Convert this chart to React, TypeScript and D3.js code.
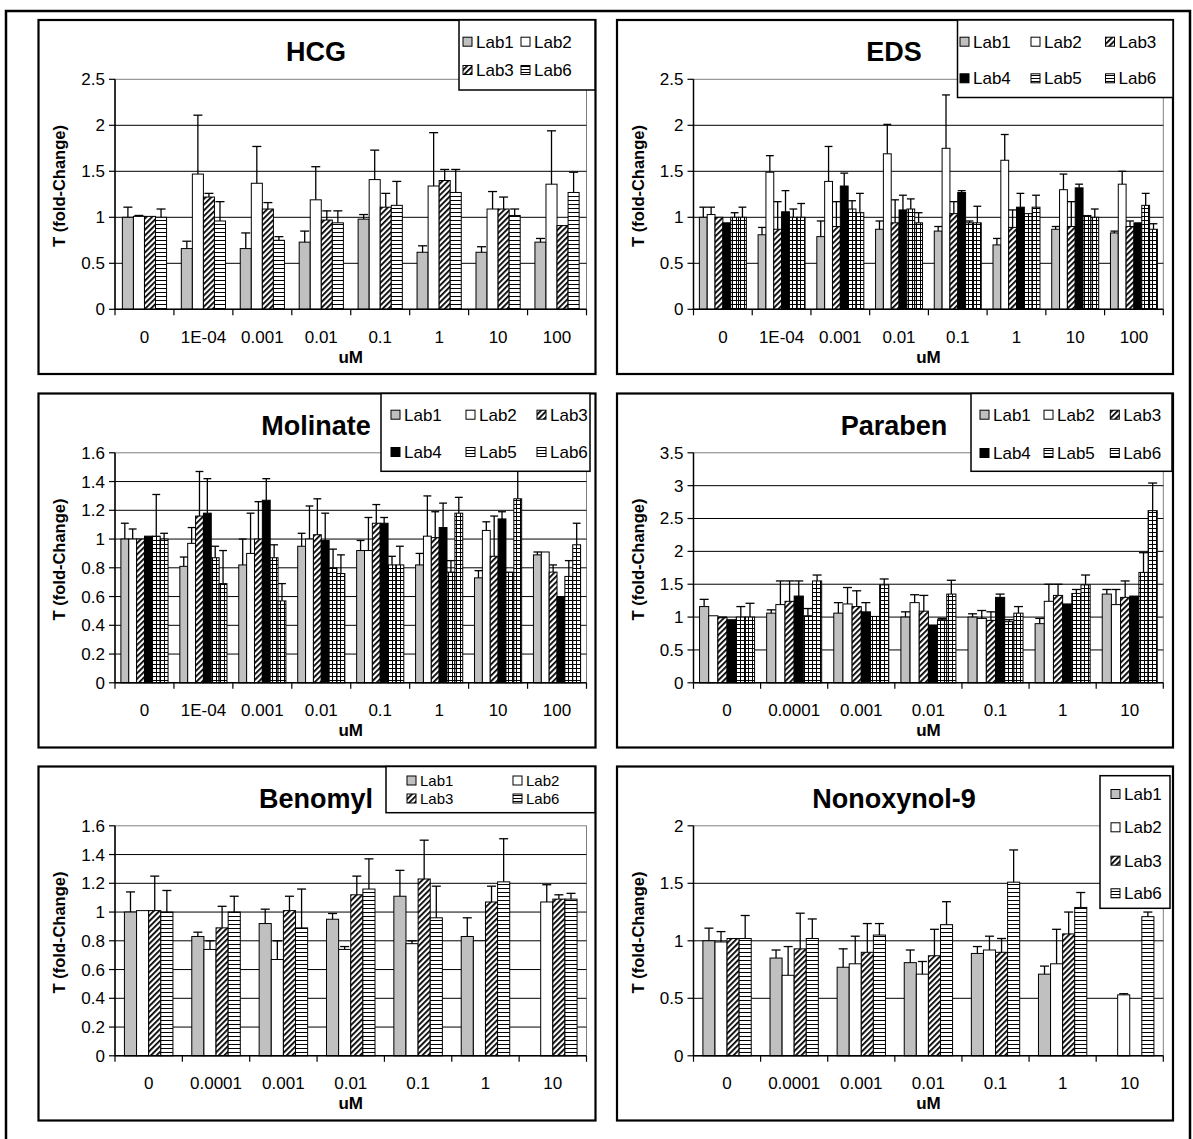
import React from "react";
import * as d3 from "d3";

// ---------- categories / labels ----------
const CONC_8 = ["0", "1E-04", "0.001", "0.01", "0.1", "1", "10", "100"];
const CONC_7 = ["0", "0.0001", "0.001", "0.01", "0.1", "1", "10"];
const LABS_4 = ["Lab1", "Lab2", "Lab3", "Lab6"];
const LABS_6 = ["Lab1", "Lab2", "Lab3", "Lab4", "Lab5", "Lab6"];

const TICKS_25 = [0, 0.5, 1, 1.5, 2, 2.5];
const TICKS_16 = [0, 0.2, 0.4, 0.6, 0.8, 1, 1.2, 1.4, 1.6];
const TICKS_35 = [0, 0.5, 1, 1.5, 2, 2.5, 3, 3.5];
const TICKS_20 = [0, 0.5, 1, 1.5, 2];

// ---------- HCG ----------
const hcgLab1 = [1.0, 0.66, 0.66, 0.73, 0.98, 0.62, 0.62, 0.73];
const hcgLab1Err = [0.11, 0.08, 0.17, 0.12, 0.05, 0.07, 0.06, 0.04];
const hcgLab2 = [1.01, 1.47, 1.37, 1.19, 1.41, 1.34, 1.09, 1.36];
const hcgLab2Err = [0.01, 0.64, 0.4, 0.36, 0.32, 0.58, 0.19, 0.58];
const hcgLab3 = [1.01, 1.22, 1.09, 0.97, 1.11, 1.4, 1.09, 0.91];
const hcgLab3Err = [0, 0.04, 0.07, 0.1, 0.15, 0.12, 0.13, 0];
const hcgLab6 = [1.0, 0.96, 0.75, 0.94, 1.13, 1.27, 1.02, 1.27];
const hcgLab6Err = [0.09, 0.21, 0.04, 0.13, 0.26, 0.25, 0.07, 0.22];

// ---------- EDS ----------
const edsLab1 = [1.0, 0.81, 0.79, 0.87, 0.85, 0.7, 0.87, 0.83];
const edsLab1Err = [0.11, 0.08, 0.17, 0.09, 0.05, 0.07, 0.03, 0.02];
const edsLab2 = [1.03, 1.49, 1.39, 1.69, 1.75, 1.62, 1.3, 1.36];
const edsLab2Err = [0.08, 0.18, 0.38, 0.32, 0.58, 0.28, 0.17, 0.14];
const edsLab3 = [1.0, 0.87, 0.9, 0.94, 1.04, 0.89, 0.9, 0.9];
const edsLab3Err = [0, 0.3, 0.27, 0.25, 0.13, 0.19, 0.27, 0.06];
const edsLab4 = [0.94, 1.06, 1.34, 1.08, 1.27, 1.11, 1.32, 0.94];
const edsLab4Err = [0, 0.23, 0.14, 0.16, 0.02, 0.15, 0.04, 0];
const edsLab5 = [1.0, 1.0, 1.09, 1.09, 0.94, 1.04, 1.02, 1.13];
const edsLab5Err = [0.05, 0.09, 0.09, 0.11, 0.02, 0, 0, 0.13];
const edsLab6 = [1.0, 1.0, 1.05, 0.94, 0.94, 1.11, 1.0, 0.87];
const edsLab6Err = [0.11, 0.15, 0.21, 0.11, 0.18, 0.13, 0.09, 0.06];

// ---------- Molinate ----------
const molLab1 = [1.0, 0.81, 0.82, 0.95, 0.92, 0.82, 0.73, 0.89];
const molLab1Err = [0.11, 0.065, 0.18, 0.09, 0.07, 0.08, 0.05, 0.02];
const molLab2 = [1.0, 0.97, 0.9, 1.0, 0.92, 1.02, 1.06, 0.91];
const molLab2Err = [0.07, 0.11, 0.28, 0.23, 0.23, 0.28, 0.06, 0];
const molLab3 = [1.0, 1.16, 1.0, 1.03, 1.11, 1.01, 0.88, 0.77];
const molLab3Err = [0, 0.31, 0.26, 0.25, 0.13, 0.18, 0.28, 0.05];
const molLab4 = [1.02, 1.18, 1.27, 0.99, 1.11, 1.08, 1.14, 0.6];
const molLab4Err = [0, 0.24, 0.15, 0.19, 0.04, 0.17, 0.05, 0];
const molLab5 = [1.02, 0.87, 0.87, 0.8, 0.82, 0.77, 0.77, 0.74];
const molLab5Err = [0.29, 0.08, 0.09, 0.13, 0.06, 0.08, 0, 0.11];
const molLab6 = [1.0, 0.69, 0.57, 0.76, 0.82, 1.18, 1.28, 0.96];
const molLab6Err = [0.04, 0.23, 0.12, 0.13, 0.13, 0.11, 0.25, 0.15];

// ---------- Paraben ----------
const parLab1 = [1.16, 1.06, 1.06, 1.0, 1.0, 0.9, 1.35];
const parLab1Err = [0.11, 0.05, 0.16, 0.08, 0.05, 0.08, 0.07];
const parLab2 = [1.02, 1.19, 1.2, 1.22, 0.98, 1.24, 1.19];
const parLab2Err = [0, 0.36, 0.25, 0.12, 0.12, 0.26, 0.23];
const parLab3 = [0.99, 1.24, 1.16, 1.09, 0.95, 1.33, 1.3];
const parLab3Err = [0.01, 0.31, 0.24, 0.24, 0.13, 0.17, 0.25];
const parLab4 = [0.96, 1.32, 1.08, 0.88, 1.3, 1.2, 1.32];
const parLab4Err = [0, 0.23, 0.14, 0, 0.05, 0, 0];
const parLab5 = [1.0, 1.02, 1.01, 0.96, 0.93, 1.36, 1.68];
const parLab5Err = [0.16, 0.11, 0, 0.02, 0.03, 0.06, 0.3];
const parLab6 = [1.0, 1.55, 1.49, 1.35, 1.06, 1.49, 2.62];
const parLab6Err = [0.21, 0.09, 0.09, 0.21, 0.1, 0.15, 0.42];

// ---------- Benomyl ----------
const benLab1 = [1.0, 0.83, 0.92, 0.95, 1.11, 0.83, null];
const benLab1Err = [0.14, 0.03, 0.1, 0.04, 0.18, 0.13, 0];
const benLab2 = [1.01, 0.74, 0.67, 0.74, 0.78, 0.8, 1.07];
const benLab2Err = [0, 0.06, 0.13, 0.02, 0.02, 0, 0.12];
const benLab3 = [1.01, 0.89, 1.01, 1.12, 1.23, 1.07, 1.09];
const benLab3Err = [0.24, 0.15, 0.1, 0.13, 0.27, 0.11, 0.03];
const benLab6 = [1.0, 1.0, 0.89, 1.16, 0.96, 1.21, 1.09];
const benLab6Err = [0.15, 0.11, 0.27, 0.21, 0.22, 0.3, 0.04];

// ---------- Nonoxynol-9 ----------
const nonLab1 = [1.0, 0.85, 0.77, 0.81, 0.89, 0.71, null];
const nonLab1Err = [0.11, 0.07, 0.16, 0.11, 0.06, 0.07, 0];
const nonLab2 = [0.99, 0.7, 0.8, 0.71, 0.92, 0.8, 0.53];
const nonLab2Err = [0.09, 0.25, 0.24, 0.11, 0.12, 0.3, 0.01];
const nonLab3 = [1.02, 0.93, 0.9, 0.87, 0.9, 1.06, null];
const nonLab3Err = [0, 0.31, 0.25, 0.23, 0.12, 0.19, 0];
const nonLab6 = [1.02, 1.02, 1.05, 1.14, 1.51, 1.29, 1.21];
const nonLab6Err = [0.2, 0.17, 0.1, 0.2, 0.28, 0.13, 0.04];

// ---------- layout ----------
const FONT = "'Liberation Sans', Arial, Helvetica, sans-serif";
const COL_X = [38.5, 617];
const COL_W = [557, 556];
const ROW_Y = [20, 393.5, 766.5];
const PANEL_H = 354;

type Fill = "gray" | "white" | "hatch" | "black" | "grid" | "hlines";
const FILL4: Fill[] = ["gray", "white", "hatch", "hlines"];
const FILL6: Fill[] = ["gray", "white", "hatch", "black", "grid", "grid"];

interface PanelDef {
  title: string;
  col: number;
  row: number;
  cats: string[];
  labs: string[];
  fills: Fill[];
  values: (number | null)[][];
  errs: number[][];
  ticks: number[];
  ratio: number;
  legend: { box: [number, number, number, number]; textX: number[]; rowY: number[]; cols: number; font: number };
}

const PANELS: PanelDef[] = [
  {
    title: "HCG", col: 0, row: 0, cats: CONC_8, labs: LABS_4, fills: FILL4,
    values: [hcgLab1, hcgLab2, hcgLab3, hcgLab6], errs: [hcgLab1Err, hcgLab2Err, hcgLab3Err, hcgLab6Err],
    ticks: TICKS_25, ratio: 0.75,
    legend: { box: [459, 20, 595, 90], textX: [476, 534], rowY: [41.7, 70], cols: 2, font: 17 },
  },
  {
    title: "EDS", col: 1, row: 0, cats: CONC_8, labs: LABS_6, fills: FILL6,
    values: [edsLab1, edsLab2, edsLab3, edsLab4, edsLab5, edsLab6],
    errs: [edsLab1Err, edsLab2Err, edsLab3Err, edsLab4Err, edsLab5Err, edsLab6Err],
    ticks: TICKS_25, ratio: 0.8,
    legend: { box: [957.5, 20, 1173, 97.5], textX: [973, 1044, 1118.5], rowY: [41.7, 78.3], cols: 3, font: 17 },
  },
  {
    title: "Molinate", col: 0, row: 1, cats: CONC_8, labs: LABS_6, fills: FILL6,
    values: [molLab1, molLab2, molLab3, molLab4, molLab5, molLab6],
    errs: [molLab1Err, molLab2Err, molLab3Err, molLab4Err, molLab5Err, molLab6Err],
    ticks: TICKS_16, ratio: 0.8,
    legend: { box: [381, 393.5, 590, 471.3], textX: [404, 479, 550], rowY: [414.7, 452], cols: 3, font: 17 },
  },
  {
    title: "Paraben", col: 1, row: 1, cats: CONC_7, labs: LABS_6, fills: FILL6,
    values: [parLab1, parLab2, parLab3, parLab4, parLab5, parLab6],
    errs: [parLab1Err, parLab2Err, parLab3Err, parLab4Err, parLab5Err, parLab6Err],
    ticks: TICKS_35, ratio: 0.82,
    legend: { box: [971, 393.5, 1172, 471.3], textX: [993, 1057, 1123.3], rowY: [414.7, 453], cols: 3, font: 17 },
  },
  {
    title: "Benomyl", col: 0, row: 2, cats: CONC_7, labs: LABS_4, fills: FILL4,
    values: [benLab1, benLab2, benLab3, benLab6], errs: [benLab1Err, benLab2Err, benLab3Err, benLab6Err],
    ticks: TICKS_16, ratio: 0.72,
    legend: { box: [386, 766.5, 595, 812.7], textX: [420, 526], rowY: [780.5, 798.5], cols: 2, font: 15 },
  },
  {
    title: "Nonoxynol-9", col: 1, row: 2, cats: CONC_7, labs: LABS_4, fills: FILL4,
    values: [nonLab1, nonLab2, nonLab3, nonLab6], errs: [nonLab1Err, nonLab2Err, nonLab3Err, nonLab6Err],
    ticks: TICKS_20, ratio: 0.72,
    legend: { box: [1100, 775.7, 1170, 908.3], textX: [1124], rowY: [794, 827.3, 860.7, 893.3], cols: 1, font: 17 },
  },
];

function fillFor(f: Fill): string {
  switch (f) {
    case "gray": return "#c0c0c0";
    case "white": return "#ffffff";
    case "black": return "#000000";
    case "hatch": return "url(#pat-hatch)";
    case "grid": return "url(#pat-grid)";
    case "hlines": return "url(#pat-hlines)";
  }
}

const fmt = (v: number) => String(+v.toFixed(1));

function Panel({ p }: { p: PanelDef }) {
  const left = COL_X[p.col];
  const width = COL_W[p.col];
  const top = ROW_Y[p.row];
  const pl = left + 76.5;
  const pr = p.col === 0 ? 586.5 : 1163.3;
  const pt = top + 59.3;
  const pb = top + 289.3;
  const yMax = p.ticks[p.ticks.length - 1];

  const x0 = d3.scaleBand<string>().domain(p.cats).range([pl, pr]).padding(0);
  const bw = x0.bandwidth();
  const gw = bw * p.ratio;
  const x1 = d3.scaleBand<string>().domain(p.labs).range([0, gw]).padding(0);
  const y = d3.scaleLinear().domain([0, yMax]).range([pb, pt]);
  const barW = x1.bandwidth();
  const capW = Math.min(barW, 9);

  const bars: React.ReactNode[] = [];
  const errs: React.ReactNode[] = [];
  p.labs.forEach((lab, si) => {
    p.cats.forEach((cat, ci) => {
      const v = p.values[si][ci];
      if (v == null) return;
      const bx = (x0(cat) as number) + (bw - gw) / 2 + (x1(lab) as number);
      bars.push(
        <rect key={`b-${si}-${ci}`} x={bx} y={y(v)} width={barW} height={pb - y(v)}
          fill={fillFor(p.fills[si])} stroke="#000" strokeWidth={1} />
      );
      const e = p.errs[si][ci];
      if (e > 0.004) {
        const cx = bx + barW / 2;
        errs.push(
          <g key={`e-${si}-${ci}`} stroke="#000" strokeWidth={1.3}>
            <line x1={cx} x2={cx} y1={y(v)} y2={y(v + e)} />
            <line x1={cx - capW / 2} x2={cx + capW / 2} y1={y(v + e)} y2={y(v + e)} />
          </g>
        );
      }
    });
  });

  const lg = p.legend;
  const [bx0, by0, bx1, by1] = lg.box;

  return (
    <g>
      <rect x={left} y={top} width={width} height={PANEL_H} fill="#fff" stroke="#000" strokeWidth={2.2} />
      <rect x={pl} y={pt} width={pr - pl} height={pb - pt} fill="#fff" stroke="#808080" strokeWidth={1} />
      {p.ticks.filter((t) => t > 0 && t < yMax).map((t) => (
        <line key={`g${t}`} x1={pl} x2={pr} y1={y(t)} y2={y(t)} stroke="#000" strokeWidth={1} />
      ))}
      {bars}
      {errs}
      <line x1={pl} x2={pl} y1={pt} y2={pb} stroke="#000" strokeWidth={1.5} />
      <line x1={pl} x2={pr} y1={pb} y2={pb} stroke="#000" strokeWidth={1.5} />
      {p.ticks.map((t) => (
        <g key={`yt${t}`}>
          <line x1={pl - 6} x2={pl} y1={y(t)} y2={y(t)} stroke="#000" strokeWidth={1.2} />
          <text x={pl - 10} y={y(t)} dy="0.35em" textAnchor="end" fontSize={17} fontFamily={FONT}>{fmt(t)}</text>
        </g>
      ))}
      {[...p.cats.map((c) => x0(c) as number), pr].map((xv, i) => (
        <line key={`xt${i}`} x1={xv} x2={xv} y1={pb} y2={pb + 6} stroke="#000" strokeWidth={1.2} />
      ))}
      {p.cats.map((c) => (
        <text key={`xl${c}`} x={(x0(c) as number) + bw / 2} y={top + 317} dy="0.35em" textAnchor="middle"
          fontSize={17} fontFamily={FONT}>{c}</text>
      ))}
      <text x={(pl + pr) / 2} y={top + 337} dy="0.35em" textAnchor="middle" fontSize={17} fontWeight="bold"
        fontFamily={FONT}>uM</text>
      <text transform={`translate(${left + 21},${top + 166}) rotate(-90)`} dy="0.35em" textAnchor="middle"
        fontSize={16.5} fontWeight="bold" fontFamily={FONT}>T (fold-Change)</text>
      <text x={left + width / 2 - 1} y={top + 32} dy="0.35em" textAnchor="middle" fontSize={27} fontWeight="bold"
        fontFamily={FONT}>{p.title}</text>
      <rect x={bx0} y={by0} width={bx1 - bx0} height={by1 - by0} fill="#fff" stroke="#000" strokeWidth={1.5} />
      {p.labs.map((lab, i) => {
        const r = Math.floor(i / lg.cols);
        const c = i % lg.cols;
        const tx = lg.textX[c];
        const ty = lg.rowY[r];
        const f = p.fills[i];
        const sw = f === "grid" || f === "hlines" ? "url(#pat-legend)" : fillFor(f);
        return (
          <g key={`lg${lab}`}>
            <rect x={tx - 13} y={ty - 4.5} width={9} height={9} fill={sw} stroke="#000" strokeWidth={1} />
            <text x={tx} y={ty} dy="0.35em" fontSize={lg.font} fontFamily={FONT}>{lab}</text>
          </g>
        );
      })}
    </g>
  );
}

export default function App() {
  return (
    <svg width={1193} height={1139} style={{ position: "absolute", left: 0, top: 0, background: "#fff" }}>
      <defs>
        <pattern id="pat-hatch" width={4} height={4} patternUnits="userSpaceOnUse" patternTransform="rotate(45)">
          <rect width={4} height={4} fill="#fff" />
          <rect x={0} y={0} width={1.8} height={4} fill="#000" />
        </pattern>
        <pattern id="pat-hlines" width={4} height={4} patternUnits="userSpaceOnUse">
          <rect width={4} height={4} fill="#fff" />
          <rect x={0} y={0} width={4} height={1} fill="#000" />
        </pattern>
        <pattern id="pat-grid" width={4} height={4} patternUnits="userSpaceOnUse">
          <rect width={4} height={4} fill="#fff" />
          <rect x={0} y={0} width={4} height={1} fill="#000" />
          <rect x={0} y={0} width={1} height={4} fill="#000" />
        </pattern>
        <pattern id="pat-legend" width={9} height={3} patternUnits="userSpaceOnUse">
          <rect width={9} height={3} fill="#fff" />
          <rect x={0} y={0} width={9} height={1} fill="#000" />
        </pattern>
      </defs>
      <rect x={0} y={0} width={1193} height={1139} fill="#fff" />
      <path d="M6,1139 V11 H1190 V1139" fill="none" stroke="#000" strokeWidth={2.5} />
      {PANELS.map((p) => (
        <Panel key={p.title} p={p} />
      ))}
    </svg>
  );
}
